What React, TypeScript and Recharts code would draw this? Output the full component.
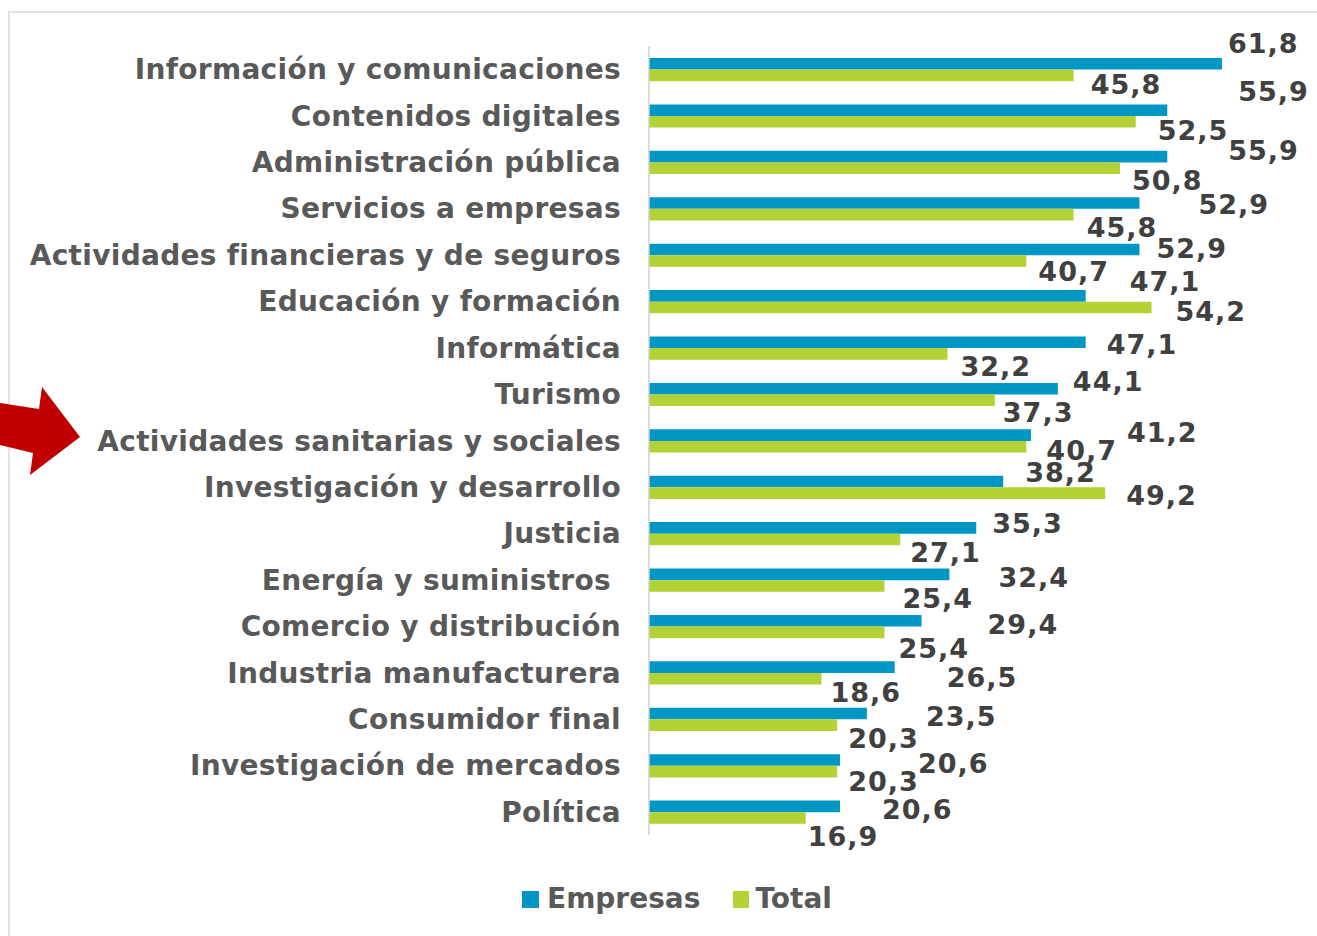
import React from "react";
import { BarChart, Bar, XAxis, YAxis, LabelList, Rectangle } from "recharts";

const categories = [
  "Información y comunicaciones",
  "Contenidos digitales",
  "Administración pública",
  "Servicios a empresas",
  "Actividades financieras y de seguros",
  "Educación y formación",
  "Informática",
  "Turismo",
  "Actividades sanitarias y sociales",
  "Investigación y desarrollo",
  "Justicia",
  "Energía y suministros\u00A0",
  "Comercio y distribución",
  "Industria manufacturera",
  "Consumidor final",
  "Investigación de mercados",
  "Política",
];

const empresas = [61.8, 55.9, 55.9, 52.9, 52.9, 47.1, 47.1, 44.1, 41.2, 38.2, 35.3, 32.4, 29.4, 26.5, 23.5, 20.6, 20.6];
const total = [45.8, 52.5, 50.8, 45.8, 40.7, 54.2, 32.2, 37.3, 40.7, 49.2, 27.1, 25.4, 25.4, 18.6, 20.3, 20.3, 16.9];

const seriesNames = ["Empresas", "Total"];

// label nudges (relative to bar end / row centre), mimicking the hand-placed labels
const empLabelDx = [6, 71, 61, 59, 17, 44, 21, 15, 96, 22, 16, 49, 66, 52, 59, 78, 42];
const empLabelDy = [-27, -25, -12, -5, -7, -21, -4, -13, -9, -15, -11, -3, -3, 4, -3, -3, -3];
const totLabelDx = [17, 22, 12, 13, 12, 24, 13, 8, 20, 21, 10, 18, 14, 9, 11, 11, 2];
const totLabelDy = [14, 14, 18, 18, 16, 9, 18, 18, 9, 8, 18, 18, 21, 19, 19, 15, 24];

const BLUE = "#0097C4";
const GREEN = "#B2D235";
const FONT = "'DejaVu Sans', Verdana, sans-serif";

const data = categories.map((name, i) => ({ name, empresas: empresas[i], total: total[i] }));

const fmt = (v: number) => v.toFixed(1).replace(".", ",");

const makeLabel = (isEmp: boolean) => (props: any) => {
  const { x, y, width, height, index, value } = props;
  const rowCenter = isEmp ? y + height : y;
  const dx = isEmp ? empLabelDx[index] : totLabelDx[index];
  const dy = isEmp ? empLabelDy[index] : totLabelDy[index];
  return (
    <text
      x={x + width + dx}
      y={rowCenter + dy + 10}
      textAnchor="start"
      fontFamily={FONT}
      fontWeight="bold"
      fontSize={27}
      letterSpacing={1}
      fill="#404040"
    >
      {fmt(value)}
    </text>
  );
};

const makeShape = (color: string) => (props: any) => (
  <Rectangle x={props.x} y={props.y} width={props.width} height={props.height} fill={color} />
);

const CategoryTick = (props: any) => {
  const { x, y, payload } = props;
  return (
    <text
      x={x}
      y={y}
      dy={10}
      textAnchor="end"
      fontFamily={FONT}
      fontWeight="bold"
      fontSize={28}
      letterSpacing={0.3}
      fill="#595959"
      style={{ whiteSpace: "pre" }}
    >
      {payload.value}
    </text>
  );
};

export default function App() {
  return (
    <div style={{ position: "relative", width: 1317, height: 936, overflow: "hidden", background: "#fff" }}>
      <style>{"html,body{margin:0;padding:0;overflow:hidden;}"}</style>
      <div
        style={{
          position: "absolute",
          left: 8,
          top: 11,
          width: 1400,
          height: 1000,
          border: "2px solid #E3E3E3",
          boxSizing: "border-box",
        }}
      />
      <div style={{ position: "absolute", left: 0, top: 0 }}>
        <BarChart
          width={1317}
          height={936}
          data={data}
          layout="vertical"
          margin={{ top: 46, right: 19, bottom: 101, left: 0 }}
          barGap={0}
        >
          <XAxis type="number" domain={[0, 70]} hide />
          <YAxis
            type="category"
            dataKey="name"
            width={649}
            axisLine={{ stroke: "#CFCFCF", strokeWidth: 1.5 }}
            tickLine={false}
            tickSize={0}
            tickMargin={28}
            interval={0}
            tick={<CategoryTick />}
          />
          <Bar
            dataKey="empresas"
            name={seriesNames[0]}
            fill={BLUE}
            barSize={11.6}
            isAnimationActive={false}
            shape={makeShape(BLUE)}
          >
            <LabelList dataKey="empresas" content={makeLabel(true)} />
          </Bar>
          <Bar
            dataKey="total"
            name={seriesNames[1]}
            fill={GREEN}
            barSize={11.6}
            isAnimationActive={false}
            shape={makeShape(GREEN)}
          >
            <LabelList dataKey="total" content={makeLabel(false)} />
          </Bar>
        </BarChart>
      </div>
      <div
        style={{
          position: "absolute",
          left: 522,
          top: 882,
          display: "flex",
          alignItems: "center",
          fontFamily: FONT,
          fontWeight: "bold",
          fontSize: 28,
          color: "#595959",
          lineHeight: "34px",
        }}
      >
        <span style={{ display: "inline-block", width: 17, height: 17, background: BLUE, marginRight: 8 }} />
        <span style={{ marginRight: 33 }}>{seriesNames[0]}</span>
        <span style={{ display: "inline-block", width: 16, height: 17, background: GREEN, marginRight: 6 }} />
        <span>{seriesNames[1]}</span>
      </div>
      <svg style={{ position: "absolute", left: 0, top: 0 }} width={100} height={500}>
        <polygon points="0,403 39,409 42,387 80,437 30,475 33,453 0,445" fill="#C00000" />
      </svg>
    </div>
  );
}
